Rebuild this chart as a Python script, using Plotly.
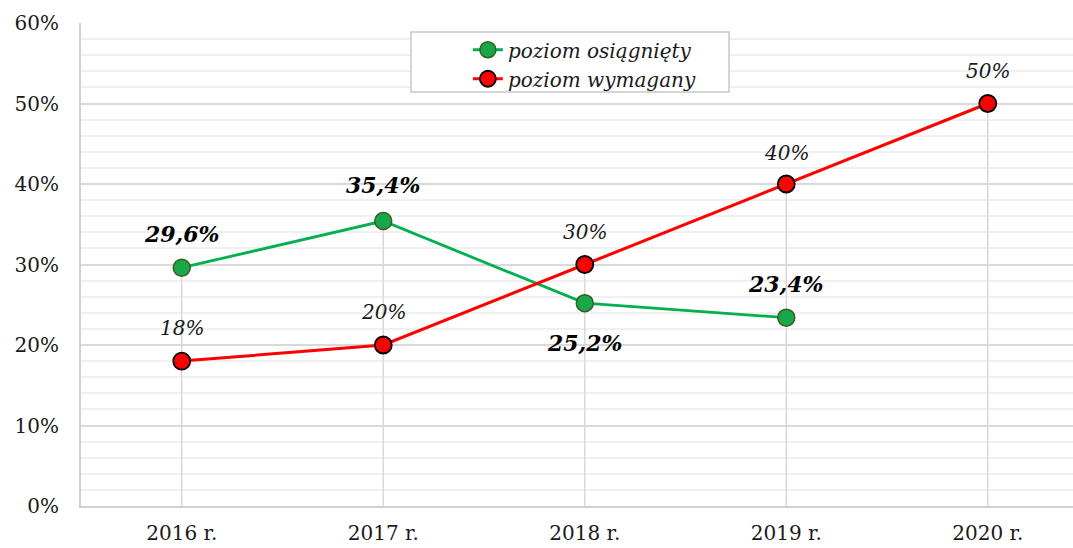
import plotly.graph_objects as go

# Data
years = ['2016 r.', '2017 r.', '2018 r.', '2019 r.', '2020 r.']
achieved = [29.6, 35.4, 25.2, 23.4, None]
required = [18, 20, 30, 40, 50]
achieved_labels = ['29,6%', '35,4%', '25,2%', '23,4%', '']
required_labels = ['18%', '20%', '30%', '40%', '50%']
y_ticks = [0, 10, 20, 30, 40, 50, 60]
y_tick_text = ['0%', '10%', '20%', '30%', '40%', '50%', '60%']

# label offsets (px) relative to the point
achieved_shift = [34, 36, -40, 34, 0]
required_shift = [33, 33, 33, 31, 33]

FONT = 'DejaVu Serif'
GREEN = '#00b050'
RED = '#ff0000'

fig = go.Figure()

# Excel-style drop lines from the highest point down to the axis
drop_x, drop_y = [], []
for yr, a, r in zip(years, achieved, required):
    top = max(v for v in (a, r) if v is not None)
    drop_x += [yr, yr, None]
    drop_y += [0, top, None]
fig.add_trace(go.Scatter(
    x=drop_x, y=drop_y, mode='lines',
    line=dict(color='#d9d9d9', width=1.5),
    showlegend=False, hoverinfo='skip',
))

fig.add_trace(go.Scatter(
    x=years, y=achieved, name='poziom osiągnięty',
    mode='lines+markers',
    line=dict(color=GREEN, width=2.8),
    marker=dict(size=17, color='#17a84a', line=dict(color='#3f5a22', width=1.5)),
))
fig.add_trace(go.Scatter(
    x=years, y=required, name='poziom wymagany',
    mode='lines+markers',
    line=dict(color=RED, width=3),
    marker=dict(size=17, color=RED, line=dict(color='#000000', width=1.8)),
))

annotations = []
for yr, v, lab, sh in zip(years, achieved, achieved_labels, achieved_shift):
    if v is None:
        continue
    annotations.append(dict(
        x=yr, y=v, text=lab, showarrow=False, yshift=sh, yanchor='middle',
        font=dict(family=FONT, size=22, color='black', weight='bold', style='italic'),
    ))
for yr, v, lab, sh in zip(years, required, required_labels, required_shift):
    annotations.append(dict(
        x=yr, y=v, text=lab, showarrow=False, yshift=sh, yanchor='middle',
        font=dict(family=FONT, size=20, color='#1a1a1a', style='italic'),
    ))

fig.update_layout(
    width=1073, height=548,
    margin=dict(l=81, r=0, t=23, b=42),
    paper_bgcolor='white', plot_bgcolor='white',
    font=dict(family=FONT, size=20, color='#1a1a1a'),
    annotations=annotations,
    showlegend=True,
    legend=dict(
        x=0.39, y=0.985, xanchor='left', yanchor='top',
        bgcolor='rgba(0,0,0,0)', borderwidth=0,
        font=dict(family=FONT, size=20, style='italic', color='#1a1a1a'),
        tracegroupgap=0,
    ),
    shapes=[dict(
        type='rect', xref='paper', yref='paper',
        x0=(411 - 81) / 992, x1=(729 - 81) / 992,
        y0=(506 - 92) / 483, y1=(506 - 32) / 483,
        line=dict(color='#c8c8c8', width=1.5), fillcolor='white', layer='above',
    )],
)

fig.update_xaxes(
    type='category', range=[-0.5, 4.423],
    showgrid=False, showline=True, linecolor='#d0d0d0', linewidth=2,
    ticks='', ticklabelstandoff=8,
)
fig.update_yaxes(
    range=[0, 60], tickvals=y_ticks, ticktext=y_tick_text,
    showgrid=True, gridcolor='#d9d9d9', gridwidth=1.5,
    minor=dict(dtick=2, showgrid=True, gridcolor='#f0f0f0', gridwidth=1.5),
    showline=True, linecolor='#d0d0d0', linewidth=2,
    zeroline=False, ticks='', ticklabelstandoff=16,
)

# drop the default body margin so the figure sits at the window's corner
fig.write_html(
    'out.html',
    config={'displayModeBar': False},
    post_script="document.body.style.margin='0';",
)
